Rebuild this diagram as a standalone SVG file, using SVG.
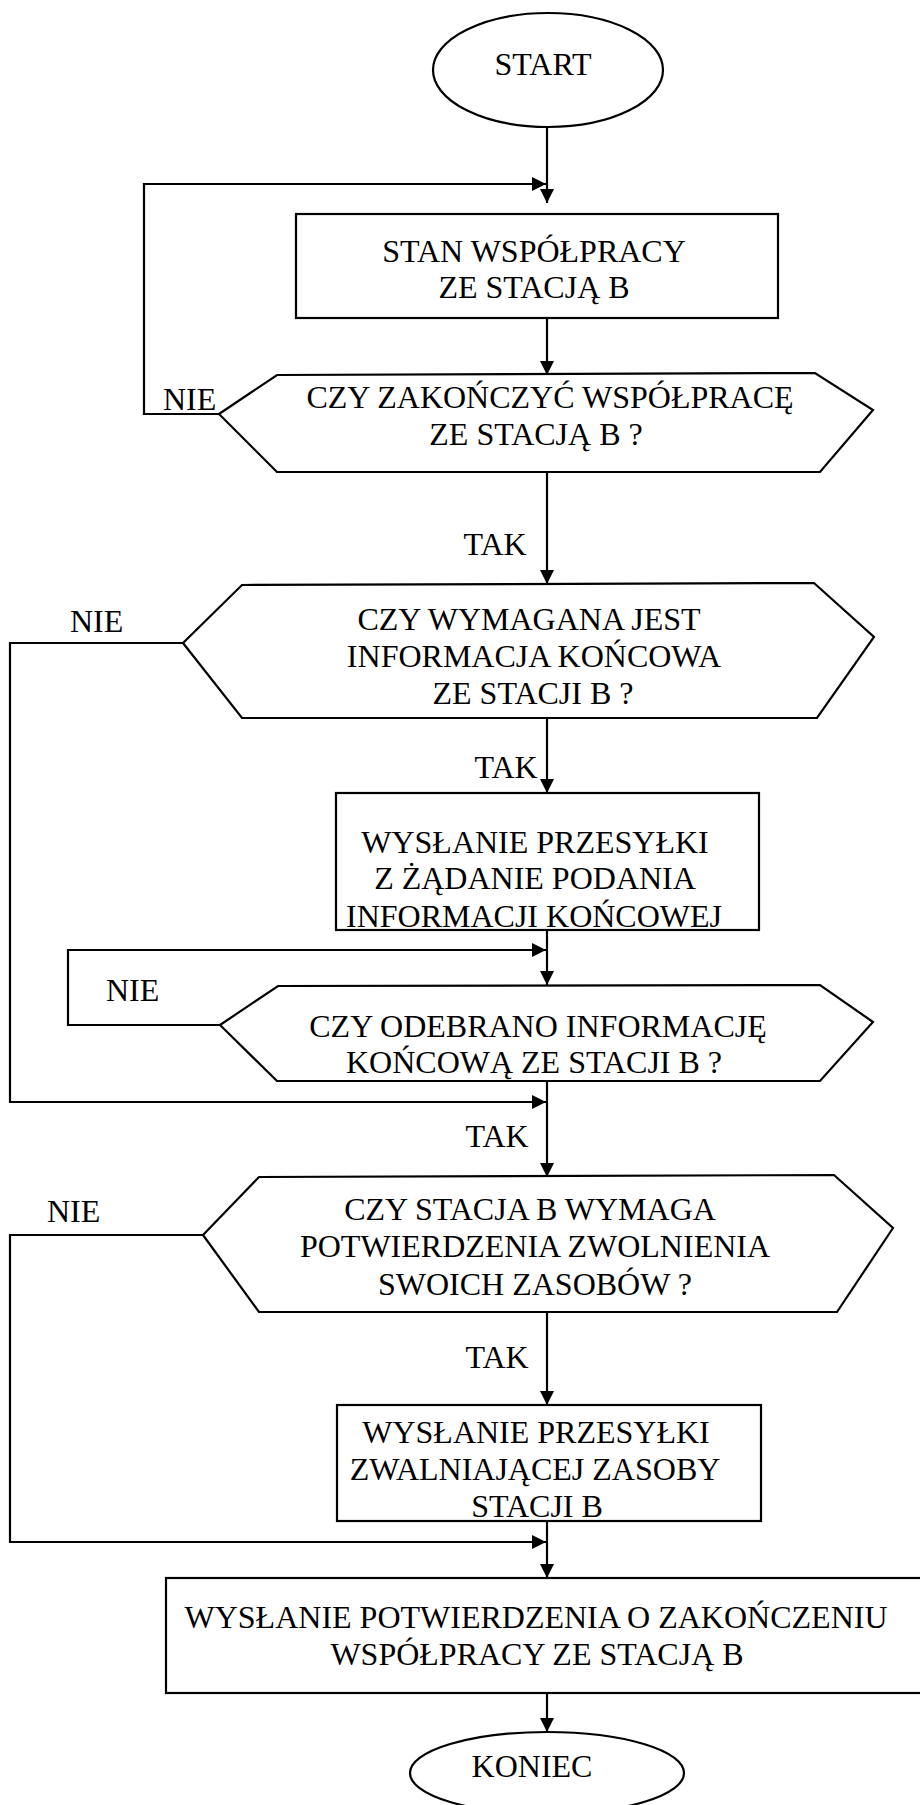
<svg xmlns="http://www.w3.org/2000/svg" width="920" height="1805" viewBox="0 0 920 1805">
  <style>
    .shape { fill: #ffffff; stroke: #000000; stroke-width: 2.2; }
    .wire { fill: none; stroke: #000000; stroke-width: 2.2; }
    text { font-family: "Liberation Serif", "Times New Roman", serif; font-size: 32px; fill: #000000; text-anchor: middle; }
    .lbl { text-anchor: start; }
  </style>
  <defs>
    <marker id="arrow" markerUnits="userSpaceOnUse" markerWidth="14" markerHeight="14" viewBox="0 0 12 12" refX="12" refY="6" orient="auto">
      <path d="M0,0 L12,6 L0,12 Z" fill="#000000"/>
    </marker>
  </defs>

  <!-- connectors -->
  <g id="connectors">
    <path class="wire" d="M547,127 V203" marker-end="url(#arrow)"/>
    <path class="wire" d="M219,414 H144 V184 H546" marker-end="url(#arrow)"/>
    <path class="wire" d="M547,318 V375" marker-end="url(#arrow)"/>
    <path class="wire" d="M547,472 V584" marker-end="url(#arrow)"/>
    <path class="wire" d="M183,643 H10 V1102 H546" marker-end="url(#arrow)"/>
    <path class="wire" d="M547,718 V793" marker-end="url(#arrow)"/>
    <path class="wire" d="M547,930 V985" marker-end="url(#arrow)"/>
    <path class="wire" d="M220,1025 H68 V950 H546" marker-end="url(#arrow)"/>
    <path class="wire" d="M547,1081 V1177" marker-end="url(#arrow)"/>
    <path class="wire" d="M203,1235 H10 V1542 H546" marker-end="url(#arrow)"/>
    <path class="wire" d="M547,1312 V1405" marker-end="url(#arrow)"/>
    <path class="wire" d="M547,1521 V1578" marker-end="url(#arrow)"/>
    <path class="wire" d="M547,1693 V1732" marker-end="url(#arrow)"/>
    <text class="lbl" x="163" y="410">NIE</text>
    <text x="495" y="555">TAK</text>
    <text class="lbl" x="70" y="632">NIE</text>
    <text x="506" y="778">TAK</text>
    <text class="lbl" x="106" y="1001">NIE</text>
    <text x="497" y="1147">TAK</text>
    <text class="lbl" x="47" y="1222">NIE</text>
    <text x="497" y="1368">TAK</text>
  </g>

  <g id="start">
    <ellipse class="shape" cx="548" cy="70" rx="115" ry="57"/>
    <text x="543" y="75">START</text>
  </g>

  <g id="cooperation-state">
    <rect class="shape" x="296" y="214" width="482" height="104"/>
    <text x="534" y="262">STAN WSPÓŁPRACY</text>
    <text x="534" y="298">ZE STACJĄ B</text>
  </g>

  <g id="end-cooperation-decision">
    <polygon class="shape" points="219,414 277,375 815,373 873,410 820,472 277,472"/>
    <text x="550" y="408">CZY ZAKOŃCZYĆ WSPÓŁPRACĘ</text>
    <text x="536" y="445">ZE STACJĄ B ?</text>
  </g>

  <g id="final-info-required">
    <polygon class="shape" points="183,643 242,585 814,583 874,637 817,718 242,718"/>
    <text x="529" y="630">CZY WYMAGANA JEST</text>
    <text x="534" y="667">INFORMACJA KOŃCOWA</text>
    <text x="533" y="704">ZE STACJI B ?</text>
  </g>

  <g id="send-info-request">
    <rect class="shape" x="336" y="793" width="423" height="137"/>
    <text x="535" y="853">WYSŁANIE PRZESYŁKI</text>
    <text x="535" y="889">Z ŻĄDANIE PODANIA</text>
    <text x="534" y="927">INFORMACJI KOŃCOWEJ</text>
  </g>

  <g id="final-info-received">
    <polygon class="shape" points="220,1025 278,986 820,985 873,1022 820,1081 277,1081"/>
    <text x="538" y="1037">CZY ODEBRANO INFORMACJĘ</text>
    <text x="534" y="1073">KOŃCOWĄ ZE STACJI B ?</text>
  </g>

  <g id="release-confirmation-required">
    <polygon class="shape" points="203,1235 259,1177 834,1175 893,1228 837,1312 259,1312"/>
    <text x="530" y="1220">CZY STACJA B WYMAGA</text>
    <text x="535" y="1257">POTWIERDZENIA ZWOLNIENIA</text>
    <text x="535" y="1295">SWOICH ZASOBÓW ?</text>
  </g>

  <g id="send-release">
    <rect class="shape" x="337" y="1405" width="424" height="116"/>
    <text x="536" y="1443">WYSŁANIE PRZESYŁKI</text>
    <text x="535" y="1480">ZWALNIAJĄCEJ ZASOBY</text>
    <text x="537" y="1517">STACJI B</text>
  </g>

  <g id="send-end-confirmation">
    <rect class="shape" x="166" y="1578" width="760" height="115"/>
    <text x="536" y="1628">WYSŁANIE POTWIERDZENIA O ZAKOŃCZENIU</text>
    <text x="537" y="1665">WSPÓŁPRACY ZE STACJĄ B</text>
  </g>

  <g id="end">
    <ellipse class="shape" cx="547" cy="1773" rx="137" ry="41"/>
    <text x="532" y="1777">KONIEC</text>
  </g>
</svg>
